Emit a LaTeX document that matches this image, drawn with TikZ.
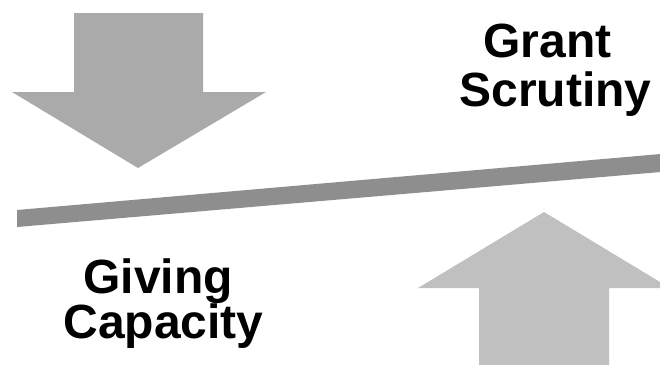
\documentclass[tikz,border=0pt]{standalone}
\usepackage{fontspec}
\setmainfont{Liberation Sans}
\begin{document}
\begin{tikzpicture}[x=1pt,y=-1pt,
  lbl/.style={font=\fontsize{48}{50}\selectfont\bfseries, inner sep=0pt, anchor=base, text=black}]
\path[use as bounding box, clip] (0,0) rectangle (660,364);
\fill[white] (0,0) rectangle (660,364);
% down arrow
\fill[color={rgb,255:red,170;green,170;blue,170}]
  (74,13) -- (203,13) -- (203,92) -- (266,92) -- (138,168) -- (12,92) -- (74,92) -- cycle;
% up arrow
\fill[color={rgb,255:red,192;green,192;blue,192}]
  (479,380) -- (479,288) -- (418,288) -- (544,212) -- (670,288) -- (609,288) -- (609,380) -- cycle;
% beam
\fill[color={rgb,255:red,142;green,142;blue,142}]
  (17,210) -- (670,153.2) -- (670,171.2) -- (17,227) -- cycle;
% labels
\node[lbl] (grant) at (547.5,57) {Grant};
\node[lbl] (scrutiny) at (555.5,106) {Scrutiny};
\node[lbl] (giving) at (158,293) {Giving};
\node[lbl] (capacity) at (163.5,338) {Capacity};
\end{tikzpicture}
\end{document}
